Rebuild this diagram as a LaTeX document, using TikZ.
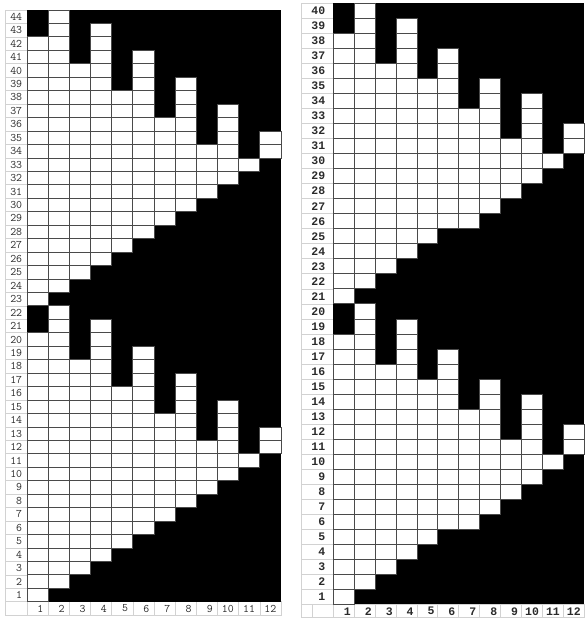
\documentclass[tikz,border=0pt]{standalone}
\usepackage{fontspec}
\newfontfamily\gridfont{Liberation Mono}
\usepackage{xcolor,tikz}
\definecolor{ink}{HTML}{4A4A4A}
\definecolor{rule}{HTML}{D2D2D2}
\definecolor{numtext}{HTML}{2A2A2A}
\tikzset{
  cell/.style={fill=white,draw=ink,line width=.8pt},
  labelcell/.style={draw=rule,line width=.7pt},
  rowlabel/.style={anchor=east,inner sep=0pt,text=numtext},
  collabel/.style={anchor=east,inner sep=0pt,text=numtext},
}
\begin{document}
\begin{tikzpicture}[x=1pt,y=1pt]
\useasboundingbox (0,0) rectangle (584,624);
% left table: 44 rows, pattern repeats every 22 rows
\begin{scope}[shift={(27pt,22.2pt)},x=21.17pt,y=13.45pt,font=\ttfamily\fontsize{11.5}{12}\selectfont]
\foreach \r in {1,...,44} {
  \draw[labelcell] (-1,\r-1) rectangle (0,\r);
  \node[rowlabel] at (-0.22,\r-0.5) {\r};
}
\draw[labelcell] (-1,-1) rectangle (0,0);
\foreach \c in {1,...,12} {
  \draw[labelcell] (\c-1,-1) rectangle (\c,0);
  \node[collabel] at (\c-0.22,-0.5) {\c};
}
\fill[black] (0,0) rectangle (12,44);
\foreach \c/\b/\t in {1/1/20,2/2/22,3/3/18,4/4/21,5/5/16,6/6/19,7/7/14,8/8/17,9/9/12,10/10/15,11/11/11,12/12/13} {
  \foreach \r in {\b,...,\t} {
    \draw[cell] (\c-1,\r-1) rectangle (\c,\r);
    \draw[cell] (\c-1,\r+21) rectangle (\c,\r+22);
  }
}
\end{scope}
% right table: 40 rows, pattern repeats every 20 rows
\begin{scope}[shift={(333.3pt,19.5pt)},x=20.9pt,y=15.03pt,font=\gridfont\bfseries\fontsize{11.5}{13}\selectfont]
\foreach \r in {1,...,40} {
  \draw[labelcell] (-1.53,\r-1) rectangle (0,\r);
  \node[rowlabel] at (-0.38,\r-0.5) {\r};
}
\draw[labelcell] (-1.53,-0.83) rectangle (0,0);
\draw[labelcell] (-1,-0.83) -- (-1,0);
\foreach \c in {1,...,12} {
  \draw[labelcell] (\c-1,-0.83) rectangle (\c,0);
  \node[collabel] at (\c-0.15,-0.45) {\c};
}
\fill[black] (0,0) rectangle (12,40);
\foreach \c/\b/\t in {1/1/18,2/2/20,3/3/16,4/4/19,5/5/15,6/6/17,7/6/13,8/7/15,9/8/11,10/9/14,11/10/10,12/11/12} {
  \foreach \r in {\b,...,\t} {
    \draw[cell] (\c-1,\r-1) rectangle (\c,\r);
    \draw[cell] (\c-1,\r+19) rectangle (\c,\r+20);
  }
}
\end{scope}
\end{tikzpicture}
\end{document}
